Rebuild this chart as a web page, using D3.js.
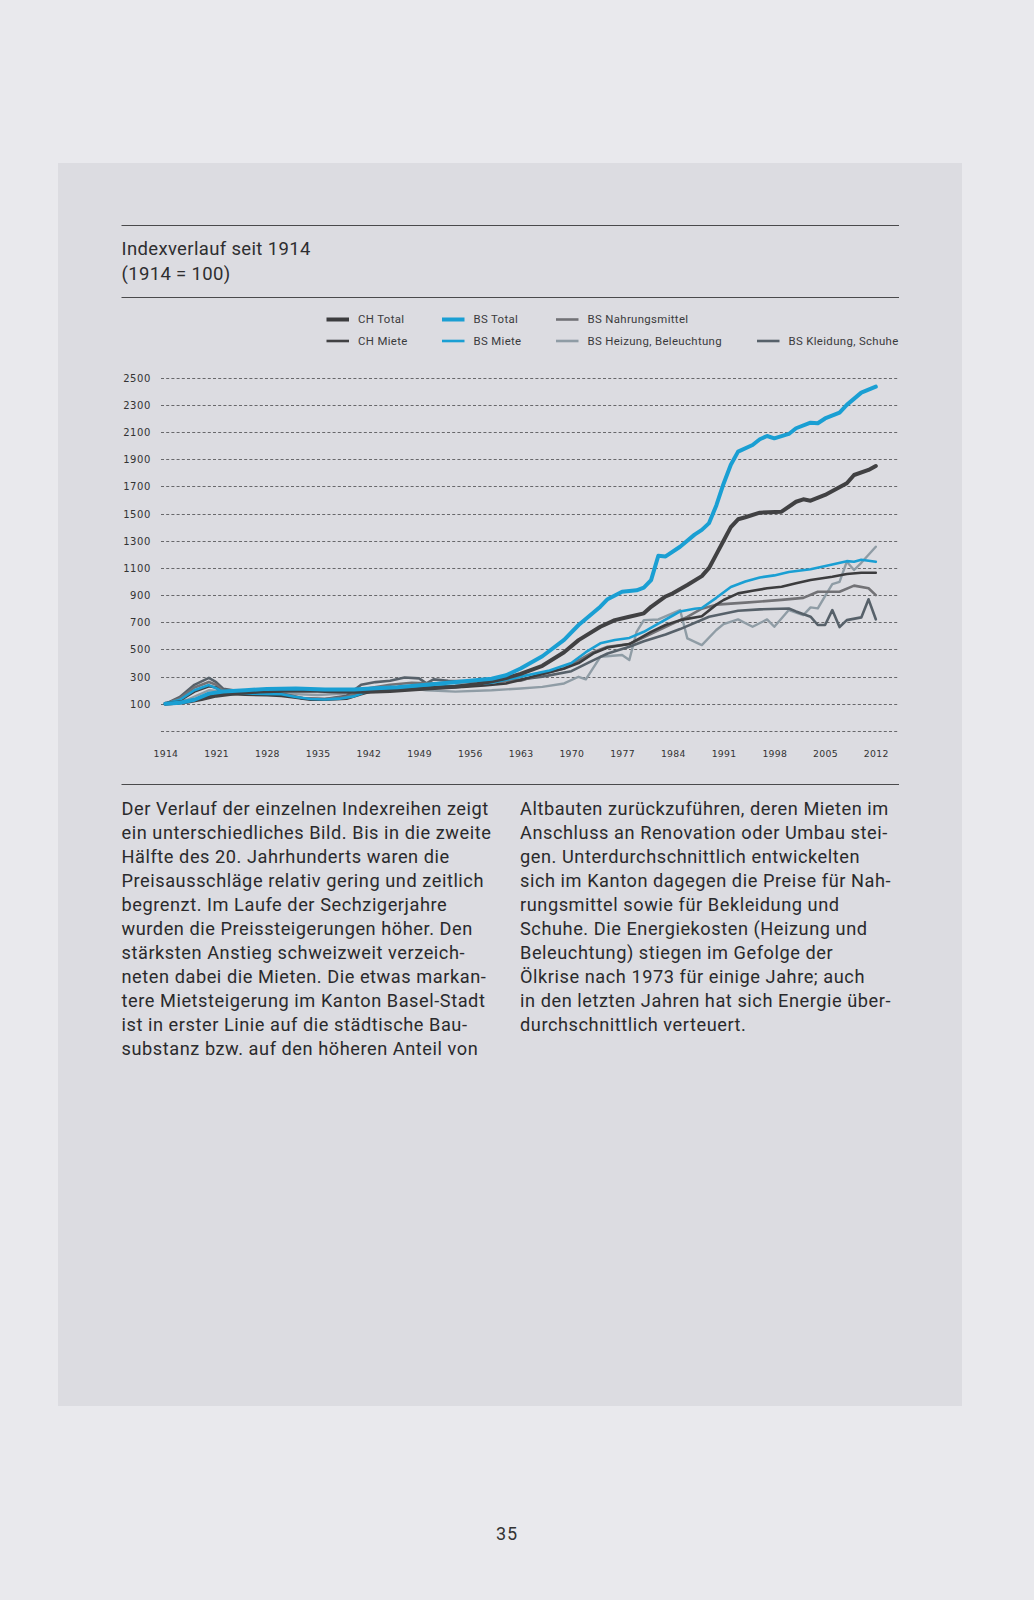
<!DOCTYPE html>
<html><head><meta charset="utf-8">
<script src="https://cdn.jsdelivr.net/npm/d3@7"></script>
<style>
html,body{margin:0;padding:0;background:#e9e9ed;}
svg{display:block;}
</style></head>
<body>
<svg id="c" width="1034" height="1600"></svg>
<script>
// ---------- DATA ----------
const seriesNames = ["BS Heizung, Beleuchtung","BS Kleidung, Schuhe","BS Nahrungsmittel","CH Total","BS Total","CH Miete","BS Miete"];
const xTicks = [1914,1921,1928,1935,1942,1949,1956,1963,1970,1977,1984,1991,1998,2005,2012];
const yTicks = [100,300,500,700,900,1100,1300,1500,1700,1900,2100,2300,2500];
const yGridExtra = [-100];

const chMiete = [[1914,100],[1917,115],[1919,135],[1921,160],[1924,180],[1927,190],[1930,197],[1935,197],[1938,190],[1942,188],[1945,195],[1948,205],[1950,213],[1954,225],[1957,245],[1959,265],[1961,290],[1963,320],[1966,380],[1969,480],[1971,569],[1974,667],[1976,716],[1978,741],[1980,766],[1981,814],[1983,890],[1984,913],[1986,974],[1988,1040],[1989,1100],[1990,1200],[1991,1300],[1992,1400],[1993,1458],[1994,1473],[1996,1507],[1999,1514],[2001,1587],[2002,1605],[2003,1595],[2005,1637],[2008,1723],[2009,1784],[2011,1821],[2012,1850]];
const bsMiete = [[1914,100],[1916,108],[1918,130],[1920,175],[1922,190],[1925,200],[1928,210],[1932,212],[1936,205],[1940,205],[1943,215],[1946,222],[1950,240],[1953,255],[1956,270],[1959,285],[1961,310],[1963,360],[1966,450],[1969,570],[1971,680],[1974,815],[1975,870],[1977,925],[1979,935],[1980,955],[1981,1010],[1982,1190],[1983,1185],[1985,1256],[1987,1345],[1988,1380],[1989,1430],[1990,1560],[1991,1720],[1992,1860],[1993,1956],[1995,2005],[1996,2047],[1997,2071],[1998,2054],[2000,2086],[2001,2128],[2003,2169],[2004,2165],[2005,2200],[2007,2243],[2008,2300],[2010,2390],[2012,2434]];
const chTotal = [[1914,100],[1916,125],[1918,190],[1920,230],[1921,220],[1922,175],[1925,168],[1928,163],[1930,158],[1932,145],[1934,130],[1936,130],[1939,137],[1941,170],[1943,200],[1946,205],[1949,215],[1952,220],[1955,225],[1958,235],[1961,250],[1963,275],[1966,320],[1969,360],[1971,400],[1973,470],[1975,515],[1978,540],[1981,630],[1983,680],[1985,716],[1988,745],[1990,830],[1991,864],[1993,913],[1995,932],[1997,950],[1999,962],[2001,987],[2003,1011],[2006,1035],[2008,1055],[2010,1065],[2012,1065]];
const bsTotal = [[1914,100],[1916,130],[1918,200],[1920,238],[1921,215],[1922,185],[1924,180],[1926,175],[1928,172],[1930,170],[1932,150],[1934,135],[1936,132],[1938,138],[1940,155],[1942,195],[1945,210],[1948,215],[1951,225],[1955,235],[1959,255],[1963,300],[1967,345],[1970,400],[1972,480],[1974,545],[1976,570],[1978,585],[1980,630],[1982,690],[1984,750],[1985,780],[1987,800],[1988,805],[1990,880],[1992,960],[1994,1000],[1996,1030],[1998,1045],[2000,1070],[2003,1090],[2006,1125],[2008,1150],[2009,1145],[2010,1160],[2012,1145]];
const bsNahrung = [[1914,100],[1916,140],[1918,220],[1920,260],[1921,240],[1922,195],[1925,185],[1928,180],[1930,170],[1933,140],[1936,135],[1939,150],[1942,215],[1945,240],[1948,255],[1951,250],[1955,260],[1959,265],[1963,270],[1966,320],[1969,360],[1971,420],[1973,480],[1975,520],[1978,540],[1980,590],[1982,640],[1984,690],[1986,740],[1988,800],[1990,830],[1994,845],[1999,865],[2002,880],[2004,925],[2007,925],[2009,970],[2011,950],[2012,900]];
const bsKleidung = [[1914,100],[1916,150],[1918,240],[1920,291],[1921,260],[1922,210],[1924,195],[1927,190],[1930,175],[1933,140],[1936,135],[1939,160],[1941,240],[1943,260],[1945,270],[1947,294],[1949,287],[1950,250],[1951,280],[1953,270],[1956,265],[1960,265],[1963,280],[1966,300],[1970,340],[1973,420],[1975,470],[1978,520],[1980,560],[1983,610],[1985,650],[1989,741],[1993,785],[1996,795],[2000,802],[2001,780],[2003,741],[2004,680],[2005,680],[2006,790],[2007,665],[2008,716],[2010,736],[2011,869],[2012,722]];
const bsHeizung = [[1914,100],[1917,130],[1920,200],[1923,185],[1926,180],[1930,175],[1935,165],[1940,180],[1944,215],[1947,220],[1950,200],[1954,190],[1959,200],[1963,213],[1966,225],[1969,250],[1971,299],[1972,280],[1974,446],[1977,459],[1978,422],[1979,630],[1980,716],[1982,721],[1985,790],[1986,582],[1988,532],[1990,643],[1991,687],[1993,721],[1995,667],[1997,721],[1998,667],[2000,790],[2002,753],[2003,810],[2004,802],[2005,893],[2006,981],[2007,998],[2008,1146],[2009,1085],[2010,1138],[2012,1256]];

const legendRow1 = ["CH Total","BS Total","BS Nahrungsmittel"];
const legendRow2 = ["CH Miete","BS Miete","BS Heizung, Beleuchtung","BS Kleidung, Schuhe"];

const bodyCol1 = ["Der Verlauf der einzelnen Indexreihen zeigt","ein unterschiedliches Bild. Bis in die zweite","Hälfte des 20. Jahrhunderts waren die","Preisausschläge relativ gering und zeitlich","begrenzt. Im Laufe der Sechzigerjahre","wurden die Preissteigerungen höher. Den","stärksten Anstieg schweizweit verzeich-","neten dabei die Mieten. Die etwas markan-","tere Mietsteigerung im Kanton Basel-Stadt","ist in erster Linie auf die städtische Bau-","substanz bzw. auf den höheren Anteil von"];
const bodyCol2 = ["Altbauten zurückzuführen, deren Mieten im","Anschluss an Renovation oder Umbau stei-","gen. Unterdurchschnittlich entwickelten","sich im Kanton dagegen die Preise für Nah-","rungsmittel sowie für Bekleidung und","Schuhe. Die Energiekosten (Heizung und","Beleuchtung) stiegen im Gefolge der","Ölkrise nach 1973 für einige Jahre; auch","in den letzten Jahren hat sich Energie über-","durchschnittlich verteuert."];

// ---------- STYLES ----------
const styles = {
  "CH Total":{color:"#3c3c3e",w:2.6,data:chTotal,lw:4},
  "CH Miete":{color:"#414143",w:4,data:chMiete,lw:2.6},
  "BS Total":{color:"#1a9fd3",w:2.6,data:bsTotal,lw:4},
  "BS Miete":{color:"#1a9fd3",w:4,data:bsMiete,lw:2.6},
  "BS Nahrungsmittel":{color:"#727276",w:2.6,data:bsNahrung,lw:2.6},
  "BS Heizung, Beleuchtung":{color:"#8f9ca5",w:2.4,data:bsHeizung,lw:2.6},
  "BS Kleidung, Schuhe":{color:"#57616a",w:2.6,data:bsKleidung,lw:2.6}
};

const svg = d3.select("#c");
svg.append("rect").attr("x",58).attr("y",163).attr("width",904).attr("height",1243).attr("fill","#dcdce1");

const L = 121.5, R = 899;
svg.append("line").attr("x1",L).attr("x2",R).attr("y1",225.5).attr("y2",225.5).attr("stroke","#4a4a4c").attr("stroke-width",1);
svg.append("line").attr("x1",L).attr("x2",R).attr("y1",297.5).attr("y2",297.5).attr("stroke","#4a4a4c").attr("stroke-width",1);
svg.append("text").attr("x",L).attr("y",255).attr("font-family","Roboto, sans-serif").attr("font-size",18.5).attr("letter-spacing",0.35).attr("fill","#2e2e30").text("Indexverlauf seit 1914");
svg.append("text").attr("x",L).attr("y",280).attr("font-family","Roboto, sans-serif").attr("font-size",18.5).attr("letter-spacing",0.35).attr("fill","#2e2e30").text("(1914 = 100)");

// legend
const legX = [326.5,442,556,757];
function legendRow(names,y){
  names.forEach((n,i)=>{
    const s = styles[n];
    svg.append("line").attr("x1",legX[i]).attr("x2",legX[i]+22.5).attr("y1",y).attr("y2",y)
      .attr("stroke",s.color).attr("stroke-width",s.lw);
    svg.append("text").attr("x",legX[i]+31.5).attr("y",y+3.8).attr("font-family","Roboto, sans-serif")
      .attr("font-size",11.4).attr("letter-spacing",0.35).attr("fill","#3a3a3c").text(n);
  });
}
legendRow(legendRow1,319.5);
legendRow(legendRow2,341);

// scales
const x = d3.scaleLinear().domain([1914,2012]).range([165.4,875.8]);
const y = d3.scaleLinear().domain([-100,2500]).range([731,377.7]);

// grid
svg.append("g").selectAll("line").data(yTicks.concat(yGridExtra)).join("line")
  .attr("x1",161).attr("x2",898).attr("y1",d=>Math.round(y(d))+0.5).attr("y2",d=>Math.round(y(d))+0.5)
  .attr("stroke","#5a5a5e").attr("stroke-width",0.9).attr("stroke-dasharray","3,2.2");

// y axis labels
const yAxis = d3.axisLeft(y).tickValues(yTicks).tickSize(0).tickPadding(0).tickFormat(d=>d);
const ya = svg.append("g").attr("transform","translate(151,0)").call(yAxis);
ya.select(".domain").remove();
ya.selectAll("text").attr("font-family","DejaVu Sans, sans-serif").attr("font-size",10).attr("fill","#333")
  .attr("letter-spacing",0.6).attr("dy","0.35em");

// x axis labels
const xAxis = d3.axisBottom(x).tickValues(xTicks).tickSize(0).tickPadding(0).tickFormat(d=>d);
const xa = svg.append("g").attr("transform","translate(0,750)").call(xAxis);
xa.select(".domain").remove();
xa.selectAll("text").attr("font-family","DejaVu Sans, sans-serif").attr("font-size",9.3).attr("fill","#333")
  .attr("letter-spacing",0.3).attr("dy","0.71em");

// lines
const line = d3.line().x(d=>x(d[0])).y(d=>y(d[1])).curve(d3.curveLinear);
const lg = svg.append("g");
seriesNames.forEach(n=>{
  const s = styles[n];
  lg.append("path").datum(s.data).attr("d",line).attr("fill","none")
    .attr("stroke",s.color).attr("stroke-width",s.w).attr("stroke-linejoin","round").attr("stroke-linecap","round");
});

svg.append("line").attr("x1",L).attr("x2",R).attr("y1",784.5).attr("y2",784.5).attr("stroke","#4a4a4c").attr("stroke-width",1);

// body text
function col(lines,x0){
  svg.append("g").selectAll("text").data(lines).join("text")
    .attr("x",x0).attr("y",(d,i)=>815+i*24)
    .attr("font-family","Roboto, sans-serif").attr("font-size",18.2).attr("fill","#2a2a2c")
    .attr("letter-spacing",0.55)
    .text(d=>d);
}
col(bodyCol1,L);
col(bodyCol2,520);

svg.append("text").attr("x",507).attr("y",1540).attr("text-anchor","middle").attr("font-family","Roboto, sans-serif")
  .attr("font-size",18).attr("letter-spacing",1).attr("fill","#333").text("35");
</script>
</body></html>
